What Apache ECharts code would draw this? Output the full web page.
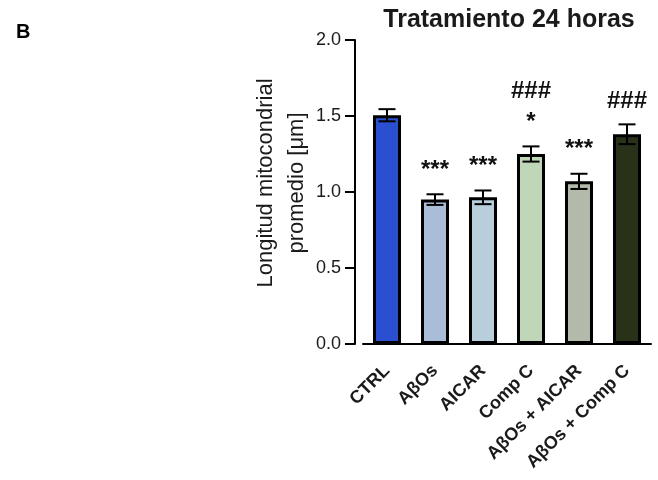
<!DOCTYPE html>
<html><head><meta charset="utf-8">
<script src="https://cdn.jsdelivr.net/npm/echarts@6/dist/echarts.min.js"></script>
<style>html,body{margin:0;padding:0;background:#fff}#c{width:658px;height:480px}</style>
</head><body><div id="c"></div>
<script>
var categories = ['CTRL', 'AβOs', 'AICAR', 'Comp C', 'AβOs + AICAR', 'AβOs + Comp C'];
var means = [1.505, 0.95, 0.965, 1.25, 1.07, 1.38];
var sems = [0.04, 0.035, 0.045, 0.05, 0.05, 0.065];
var starMarks = ['', '***', '***', '*', '***', ''];
var hashMarks = ['', '', '', '###', '', '###'];
var barColors = ['#2a4fd0', '#a9bcd8', '#b8cedb', '#bfd6b9', '#b4baa9', '#283219'];
var yTicks = [0, 0.5, 1.0, 1.5, 2.0];

var chart = echarts.init(document.getElementById('c'));
var FONT = '"Liberation Sans", Arial, sans-serif';
chart.setOption({
  animation: false,
  title: [
    { text: 'Tratamiento 24 horas', left: 504, top: 3, textAlign: 'center',
      textStyle: { fontFamily: FONT, fontSize: 25, fontWeight: 'bold', color: '#1a1a1a' } },
    { text: 'B', left: 11, top: 17,
      textStyle: { fontFamily: FONT, fontSize: 20, fontWeight: 'bold', color: '#000' } }
  ],
  grid: { left: 363, right: 7, top: 40, bottom: 136 },
  xAxis: {
    type: 'category', data: categories,
    axisLine: { lineStyle: { color: '#000', width: 2 } },
    axisTick: { alignWithLabel: true, length: 8, lineStyle: { color: '#000', width: 2 } },
    axisLabel: { rotate: 45, interval: 0, margin: 24, fontFamily: FONT, fontSize: 18, fontWeight: 'bold', color: '#1a1a1a' }
  },
  yAxis: {
    type: 'value', min: yTicks[0], max: yTicks[yTicks.length - 1], interval: 0.5, offset: 8,
    name: 'Longitud mitocondrial\npromedio [μm]', nameLocation: 'middle', nameGap: 42,
    nameTextStyle: { fontFamily: FONT, fontSize: 22, color: '#1a1a1a', lineHeight: 31, padding: [0, 0, 0, 18] },
    axisLine: { show: true, lineStyle: { color: '#000', width: 2 } },
    axisTick: { show: true, length: 10, lineStyle: { color: '#000', width: 2 } },
    axisLabel: { margin: 14, fontFamily: FONT, fontSize: 18, color: '#1a1a1a',
      formatter: function (v) { return v.toFixed(1); } },
    splitLine: { show: false }
  },
  series: [
    {
      type: 'bar', barWidth: 28,
      data: means.map(function (v, i) {
        return { value: v, itemStyle: { color: barColors[i], borderColor: '#000', borderWidth: 3 } };
      }),
      z: 2
    },
    {
      type: 'custom', z: 3,
      data: means.map(function (v, i) { return [i, v, sems[i]]; }),
      renderItem: function (params, api) {
        var i = api.value(0), m = api.value(1), e = api.value(2);
        var top = api.coord([i, m + e]);
        var bot = api.coord([i, m - e]);
        var x = top[0], hw = 8.5;
        var style = { stroke: '#000', lineWidth: 2 };
        var children = [
          { type: 'line', shape: { x1: x, y1: top[1], x2: x, y2: bot[1] }, style: style },
          { type: 'line', shape: { x1: x - hw, y1: top[1], x2: x + hw, y2: top[1] }, style: style },
          { type: 'line', shape: { x1: x - hw, y1: bot[1], x2: x + hw, y2: bot[1] }, style: style }
        ];
        var s = starMarks[i], h = hashMarks[i];
        var tf = { fontFamily: FONT, fontSize: 24, fontWeight: 'bold', fill: '#111', align: 'center', verticalAlign: 'middle' };
        if (s) {
          children.push({ type: 'text', x: x, y: top[1] - 24, style: Object.assign({ text: s }, tf) });
        }
        if (h) {
          children.push({ type: 'text', x: x, y: top[1] - (s ? 55 : 23), style: Object.assign({ text: h }, tf) });
        }
        return { type: 'group', children: children };
      }
    }
  ]
});
</script></body></html>
